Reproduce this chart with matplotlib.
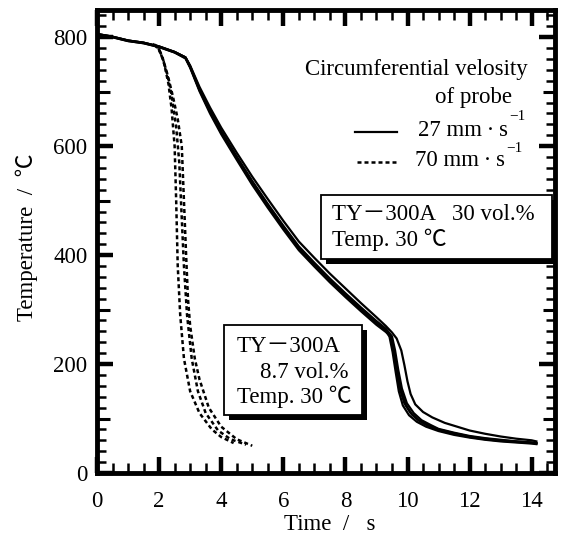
import matplotlib
matplotlib.use("Agg")
import matplotlib.pyplot as plt
from matplotlib.patches import Rectangle
from matplotlib.ticker import MultipleLocator, FixedLocator

# ---------------- data ----------------
# 27 mm/s runs (solid)
s1_t = [0, 0.5, 1.0, 1.5, 2.0, 2.5, 2.85, 3.0, 3.3, 3.64, 4.0, 4.5, 5.0, 5.5, 6.0, 6.5, 7.0, 7.5, 8.0, 8.5, 9.0, 9.3, 9.42, 9.52, 9.62, 9.72, 9.85, 10.05, 10.3, 10.6, 11.0, 11.5, 12.0, 12.5, 13.0, 13.5, 14.0, 14.15]
s1_T = [805, 800, 793, 789, 782, 772, 762, 745, 703, 663, 625, 578, 532, 490, 450, 412, 382, 353, 326, 300, 275, 262, 250, 222, 185, 150, 124, 106, 94, 85, 77, 70, 65, 61, 58, 56, 54, 53]
s2_t = [0, 0.5, 1.0, 1.5, 2.0, 2.5, 2.85, 3.0, 3.3, 3.64, 4.0, 4.5, 5.0, 5.5, 6.0, 6.5, 7.0, 7.5, 8.0, 8.5, 9.0, 9.3, 9.45, 9.55, 9.65, 9.75, 9.9, 10.1, 10.35, 10.65, 11.0, 11.5, 12.0, 12.5, 13.0, 13.5, 14.0, 14.15]
s2_T = [806, 801, 794, 790, 783, 773, 763, 747, 706, 666, 628, 581, 536, 494, 454, 416, 386, 357, 330, 304, 279, 265, 253, 226, 190, 155, 128, 110, 97, 88, 80, 73, 67, 63, 60, 58, 56, 55]
s3_t = [0, 0.5, 1.0, 1.5, 2.0, 2.5, 2.85, 3.0, 3.3, 3.64, 4.0, 4.5, 5.0, 5.5, 6.0, 6.5, 7.0, 7.5, 8.0, 8.5, 9.0, 9.3, 9.48, 9.58, 9.68, 9.8, 9.95, 10.15, 10.4, 10.7, 11.0, 11.5, 12.0, 12.5, 13.0, 13.5, 14.0, 14.15]
s3_T = [804, 800, 793, 789, 782, 772, 761, 744, 701, 660, 622, 575, 529, 487, 447, 409, 379, 350, 323, 297, 272, 259, 249, 222, 186, 150, 124, 107, 95, 86, 79, 72, 66, 62, 59, 57, 55, 54]
s4_t = [0, 0.5, 1.0, 1.5, 2.0, 2.5, 2.85, 3.0, 3.3, 3.64, 4.0, 4.5, 5.0, 5.5, 6.0, 6.5, 7.0, 7.5, 8.0, 8.5, 9.0, 9.35, 9.5, 9.6, 9.7, 9.82, 9.98, 10.2, 10.45, 10.75, 11.0, 11.5, 12.0, 12.5, 13.0, 13.5, 14.0, 14.15]
s4_T = [806, 801, 794, 790, 783, 773, 763, 746, 704, 664, 626, 579, 534, 492, 452, 414, 384, 355, 328, 302, 277, 261, 251, 225, 190, 155, 128, 110, 97, 88, 81, 74, 68, 64, 61, 58, 56, 55]
s5_t = [0, 0.5, 1.0, 1.5, 2.0, 2.5, 2.85, 3.0, 3.3, 3.64, 4.0, 4.5, 5.0, 5.5, 6.0, 6.5, 7.0, 7.5, 8.0, 8.5, 9.0, 9.3, 9.5, 9.65, 9.8, 9.9, 10.0, 10.1, 10.25, 10.5, 10.8, 11.2, 11.6, 12.0, 12.5, 13.0, 13.5, 14.0, 14.15]
s5_T = [806, 801, 794, 790, 783, 773, 763, 748, 709, 671, 634, 588, 544, 503, 463, 425, 395, 366, 339, 312, 286, 270, 258, 247, 225, 198, 168, 145, 126, 112, 102, 92, 85, 78, 72, 67, 63, 60, 58]

# 70 mm/s runs (dotted)
d1_t = [1.8, 2.0, 2.15, 2.3, 2.4, 2.5, 2.55, 2.6, 2.68, 2.8, 3.0, 3.3, 3.7, 4.0, 4.4]
d1_T = [788, 778, 755, 715, 670, 600, 500, 380, 290, 210, 150, 110, 80, 66, 55]
d2_t = [1.85, 2.05, 2.25, 2.4, 2.55, 2.65, 2.72, 2.8, 2.9, 3.05, 3.25, 3.5, 3.9, 4.3, 4.8]
d2_T = [787, 772, 735, 695, 635, 570, 480, 380, 290, 210, 150, 110, 78, 62, 52]
d3_t = [1.9, 2.1, 2.3, 2.45, 2.6, 2.73, 2.8, 2.87, 2.93, 3.0, 3.15, 3.3, 3.6, 4.0, 4.5, 5.0]
d3_T = [786, 765, 725, 690, 650, 600, 500, 400, 320, 270, 210, 172, 120, 85, 62, 50]

solid_runs = [(s1_t, s1_T), (s2_t, s2_T), (s3_t, s3_T), (s4_t, s4_T), (s5_t, s5_T)]
dotted_runs = [(d1_t, d1_T), (d2_t, d2_T), (d3_t, d3_T)]

x_ticks = [0, 2, 4, 6, 8, 10, 12, 14]
y_ticks = [0, 200, 400, 600, 800]
y_mid_ticks = [100, 300, 500, 700]

# ---------------- figure ----------------
W, H = 564, 538
FAM = ['Liberation Serif', 'Noto Sans CJK JP', 'DejaVu Serif']
plt.rcParams['font.family'] = FAM
fig = plt.figure(figsize=(W / 100, H / 100), dpi=100)

L, R, T, B = 97, 555, 10, 473
XMAX, YMAX = 14.75, 850
pos = [L / W, 1 - B / H, (R - L) / W, (B - T) / H]
ax = fig.add_axes(pos)

for t, v in solid_runs:
    ax.plot(t, v, color='black', lw=1.6, solid_joinstyle='round', zorder=3)
for t, v in dotted_runs:
    ax.plot(t, v, color='black', lw=1.8, linestyle=(0, (1.6, 1.2)), zorder=3)

ax.set_xlim(0, XMAX)
ax.set_ylim(0, YMAX)
ax.xaxis.set_major_locator(FixedLocator(x_ticks))
ax.xaxis.set_minor_locator(MultipleLocator(0.5))
ax.yaxis.set_major_locator(FixedLocator(y_ticks))
ax.yaxis.set_minor_locator(MultipleLocator(20))

for sp in ax.spines.values():
    sp.set_linewidth(3.5)
ax.tick_params(axis='both', which='both', direction='in', top=True, right=True)
ax.tick_params(axis='x', which='major', length=11.5, width=3.2, labelsize=16.5, pad=13)
ax.tick_params(axis='x', which='minor', length=7, width=1.8)
ax.tick_params(axis='y', which='major', length=11.5, width=3.2, labelsize=16.5, pad=7)
ax.tick_params(axis='y', which='minor', length=6.5, width=1.8)

# medium ticks on y (every 100), separate overlay axes
ax3 = fig.add_axes(pos)
ax3.set_xlim(0, XMAX)
ax3.set_ylim(0, YMAX)
ax3.patch.set_visible(False)
for sp in ax3.spines.values():
    sp.set_visible(False)
ax3.set_xticks([])
ax3.yaxis.set_major_locator(FixedLocator(y_mid_ticks))
ax3.yaxis.set_minor_locator(FixedLocator([]))
ax3.tick_params(axis='y', which='major', direction='in', length=9, width=2.2,
                left=True, right=True, labelleft=False, labelright=False)

def fx(px):
    return px / W

def fy(py):
    return 1 - py / H

fs = 16.5
fig.text(fx(27), fy(237), 'Temperature  /  ℃', rotation=90, ha='center', va='center', fontsize=fs)
fig.text(fx(330), fy(524), 'Time  /   s', ha='center', va='center', fontsize=fs)

# legend
fig.text(fx(528), fy(70), 'Circumferential velosity', ha='right', va='center', fontsize=fs)
fig.text(fx(512), fy(97), 'of probe', ha='right', va='center', fontsize=fs)
leg = fig.add_axes([0, 0, 1, 1], facecolor='none')
leg.set_xlim(0, W)
leg.set_ylim(H, 0)
leg.axis('off')
leg.plot([355, 397], [132, 132], color='black', lw=1.6)
leg.plot([357, 397], [162, 162], color='black', lw=1.8, linestyle=(0, (1.6, 1.2)))
leg.text(418, 131, '27 mm\u2009·\u2009s', ha='left', va='center', fontsize=fs)
leg.text(509, 117, '−1', ha='left', va='center', fontsize=11)
leg.text(415, 161, '70 mm\u2009·\u2009s', ha='left', va='center', fontsize=fs)
leg.text(506, 148, '−1', ha='left', va='center', fontsize=11)

# boxes with drop shadows
def box(x0, y0, x1, y1):
    off = 5
    leg.add_patch(Rectangle((x0 + off, y0 + off), x1 - x0, y1 - y0, facecolor='black',
                            edgecolor='black', lw=0, zorder=5))
    leg.add_patch(Rectangle((x0, y0), x1 - x0, y1 - y0, facecolor='white',
                            edgecolor='black', lw=1.3, zorder=6))

box(321, 195, 552, 259)
leg.text(332, 215, 'TY－300A   30 vol.%', ha='left', va='center', fontsize=fs, zorder=7)
leg.text(332, 240, 'Temp. 30 ℃', ha='left', va='center', fontsize=fs, zorder=7)

box(224, 325, 362, 415)
leg.text(237, 346, 'TY－300A', ha='left', va='center', fontsize=fs, zorder=7)
leg.text(260, 372, '8.7 vol.%', ha='left', va='center', fontsize=fs, zorder=7)
leg.text(237, 397, 'Temp. 30 ℃', ha='left', va='center', fontsize=fs, zorder=7)

fig.savefig('out.png', dpi=100)
